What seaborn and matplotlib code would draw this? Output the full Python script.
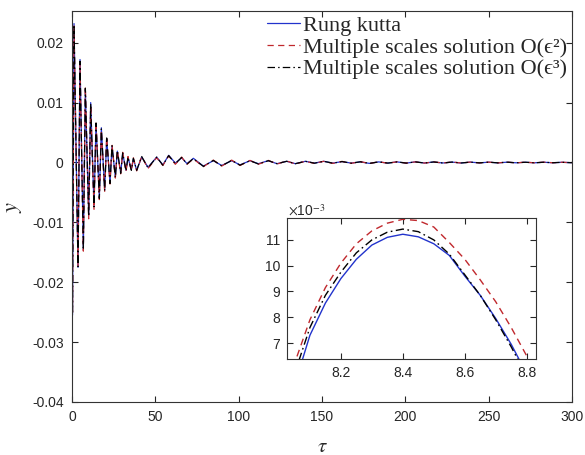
import numpy as np
import pandas as pd
import matplotlib
matplotlib.use('Agg')
import matplotlib.pyplot as plt
import seaborn as sns

# tau values at the turning points of the response
tau = [0, 0.3, 1.2, 3.6, 4.8, 6.8, 8.0, 10.0, 11.2, 13.2,
       14.4, 16.4, 17.6, 19.6, 20.8, 22.8, 24.0, 26.0, 27.2, 29.2,
       30.4, 32.4, 33.6, 35.6, 36.8, 38.8, 41.8, 45.6, 50.8, 54.5,
       58.0, 62.0, 65.8, 69.0, 72.8, 78.8, 84.8, 89.8, 95.8, 100.8,
       106.8, 111.8, 117.8, 123.0, 128.8, 134.0, 140.0, 145.5, 151.0, 156.5,
       162.0, 167.5, 173.0, 178.5, 184.0, 189.5, 195.0, 200.5, 206.0, 211.5,
       217.0, 222.5, 228.0, 233.5, 239.0, 244.5, 250.0, 255.5, 261.0, 266.5,
       272.0, 277.5, 283.0, 288.5, 294.0, 299.5, 300.0]

# y in units of 1e-3
y_rk = [0.0, -25.5, 23.2, -17.5, 17.2, -14.5, 12.2, -8.8, 10.0, -7.2,
        6.4, -5.8, 5.8, -4.6, 4.0, -3.4, 2.7, -2.4, 1.9, -1.7,
        1.5, -1.3, 0.8, -1.2, 0.6, -1.3, 0.9, -0.8, 0.9, -0.4,
        1.2, -0.1, 0.8, -0.2, 0.7, -0.6, 0.3, -0.5, 0.3, -0.4,
        0.3, -0.2, 0.3, -0.2, 0.2, -0.2, 0.2, -0.1, 0.2, -0.1,
        0.15, -0.1, 0.1, -0.15, 0.1, -0.1, 0.1, -0.1, 0.1, -0.08,
        0.08, -0.08, 0.06, -0.08, 0.06, -0.06, 0.05, -0.06, 0.05, -0.05,
        0.04, -0.05, 0.04, -0.04, 0.03, -0.03, 0.0]

y_ms2 = [0.0, -25.0, 22.8, -17.2, 16.5, -14.8, 12.6, -9.4, 9.6, -7.8,
         6.9, -6.2, 5.4, -4.9, 4.3, -3.6, 3.0, -2.6, 2.1, -1.9,
         1.7, -1.5, 1.0, -1.4, 0.8, -1.4, 1.0, -1.0, 0.8, -0.5,
         1.1, -0.3, 0.9, -0.3, 0.6, -0.7, 0.4, -0.6, 0.4, -0.5,
         0.35, -0.3, 0.35, -0.25, 0.25, -0.25, 0.2, -0.15, 0.2, -0.15,
         0.18, -0.14, 0.14, -0.16, 0.12, -0.12, 0.12, -0.1, 0.1, -0.1,
         0.1, -0.09, 0.08, -0.09, 0.07, -0.07, 0.06, -0.07, 0.06, -0.06,
         0.05, -0.05, 0.05, -0.04, 0.04, -0.03, 0.0]

y_ms3 = [0.0, -25.3, 23.0, -17.4, 16.9, -14.6, 12.4, -9.0, 9.8, -7.4,
         6.6, -6.0, 5.6, -4.7, 4.1, -3.5, 2.8, -2.5, 2.0, -1.8,
         1.6, -1.4, 0.9, -1.3, 0.7, -1.3, 1.0, -0.9, 0.9, -0.45,
         1.15, -0.2, 0.85, -0.25, 0.65, -0.65, 0.35, -0.55, 0.35, -0.45,
         0.3, -0.25, 0.3, -0.2, 0.2, -0.2, 0.2, -0.12, 0.2, -0.12,
         0.16, -0.12, 0.12, -0.15, 0.1, -0.1, 0.1, -0.1, 0.1, -0.09,
         0.09, -0.08, 0.07, -0.08, 0.06, -0.06, 0.05, -0.06, 0.05, -0.05,
         0.04, -0.05, 0.04, -0.04, 0.03, -0.03, 0.0]

# zoomed peak near tau = 8.4 (y in units of 1e-3)
tau_zoom = [8.00, 8.05, 8.10, 8.15, 8.20, 8.25, 8.30, 8.35, 8.40,
            8.45, 8.50, 8.55, 8.60, 8.65, 8.70, 8.75, 8.80, 8.85]
zoom_rk = [3.4, 5.35, 7.3, 8.55, 9.5, 10.25, 10.8, 11.1, 11.22,
           11.12, 10.85, 10.4, 9.6, 8.85, 7.95, 6.95, 5.8, 4.5]
zoom_ms2 = [4.3, 6.2, 7.9, 9.15, 10.1, 10.85, 11.35, 11.65, 11.8,
            11.75, 11.5, 10.9, 10.25, 9.45, 8.6, 7.6, 6.5, 5.2]
zoom_ms3 = [3.8, 5.8, 7.6, 8.85, 9.75, 10.5, 11.0, 11.3, 11.42,
            11.32, 11.0, 10.45, 9.65, 8.85, 7.9, 6.85, 5.7, 4.4]

labels = ['Rung kutta',
          'Multiple scales solution O(ϵ²)',
          'Multiple scales solution O(ϵ³)']
colors = ['#2233cc', '#c0282d', '#000000']
styles = ['-', (0, (5, 3.5)), (0, (6, 2.5, 1.2, 2.5))]

sns.set_theme(style='ticks')
plt.rcParams['font.family'] = ['Liberation Sans', 'DejaVu Sans']
plt.rcParams['mathtext.fontset'] = 'stix'
plt.rcParams['axes.unicode_minus'] = False

df = pd.DataFrame({'tau': tau,
                   'rk': np.array(y_rk) * 1e-3,
                   'ms2': np.array(y_ms2) * 1e-3,
                   'ms3': np.array(y_ms3) * 1e-3})
dz = pd.DataFrame({'tau': tau_zoom, 'rk': zoom_rk, 'ms2': zoom_ms2, 'ms3': zoom_ms3})

fig = plt.figure(figsize=(5.85, 4.55), dpi=100)
ax = fig.add_axes([0.1231, 0.1165, 0.8547, 0.8593])

for col, lab, c, ls in zip(['rk', 'ms2', 'ms3'], labels, colors, styles):
    sns.lineplot(data=df, x='tau', y=col, ax=ax, color=c, linestyle=ls,
                 linewidth=0.9, estimator=None, sort=False, label=lab)

ax.set_xlim(0, 300)
ax.set_ylim(-0.04, 0.0253)
ax.set_xticks([0, 50, 100, 150, 200, 250, 300])
ax.set_yticks([-0.04, -0.03, -0.02, -0.01, 0, 0.01, 0.02])
ax.set_yticklabels(['-0.04', '-0.03', '-0.02', '-0.01', '0', '0.01', '0.02'])
ax.tick_params(direction='in', top=True, right=True, length=4, width=0.8,
               labelsize=10, pad=6, colors='#262626')
ax.set_xlabel(r'$\tau$', fontsize=15, labelpad=9)
ax.set_ylabel(r'$y$', fontsize=16, labelpad=6)
for s in ax.spines.values():
    s.set_color('#333333')
    s.set_linewidth(0.8)

ax.legend(loc='upper right', bbox_to_anchor=(1.0, 1.0), frameon=False,
          prop={'family': ['Liberation Serif', 'DejaVu Serif'], 'size': 16},
          handlelength=1.5, handletextpad=0.15, labelspacing=0.05,
          borderpad=0.15, borderaxespad=0.05)

# inset
ax2 = fig.add_axes([287 / 585, 96 / 455, 249 / 585, 141 / 455])
for col, c, ls in zip(['rk', 'ms2', 'ms3'], colors, styles):
    sns.lineplot(data=dz, x='tau', y=col, ax=ax2, color=c, linestyle=ls,
                 linewidth=1.0, estimator=None, sort=False, legend=False)
ax2.set_xlim(8.026, 8.83)
ax2.set_ylim(6.38, 11.85)
ax2.set_xticks([8.2, 8.4, 8.6, 8.8])
ax2.set_yticks([7, 8, 9, 10, 11])
ax2.set_xlabel('')
ax2.set_ylabel('')
ax2.tick_params(direction='in', top=True, right=True, length=4, width=0.8,
                labelsize=10, pad=5, colors='#262626')
for s in ax2.spines.values():
    s.set_color('#333333')
    s.set_linewidth(0.8)
fig.text(288 / 585, 1 - 216 / 455, r'$\times$10$^{-3}$', fontsize=10,
         ha='left', va='baseline', color='#262626')

fig.savefig('out.png', dpi=100)
